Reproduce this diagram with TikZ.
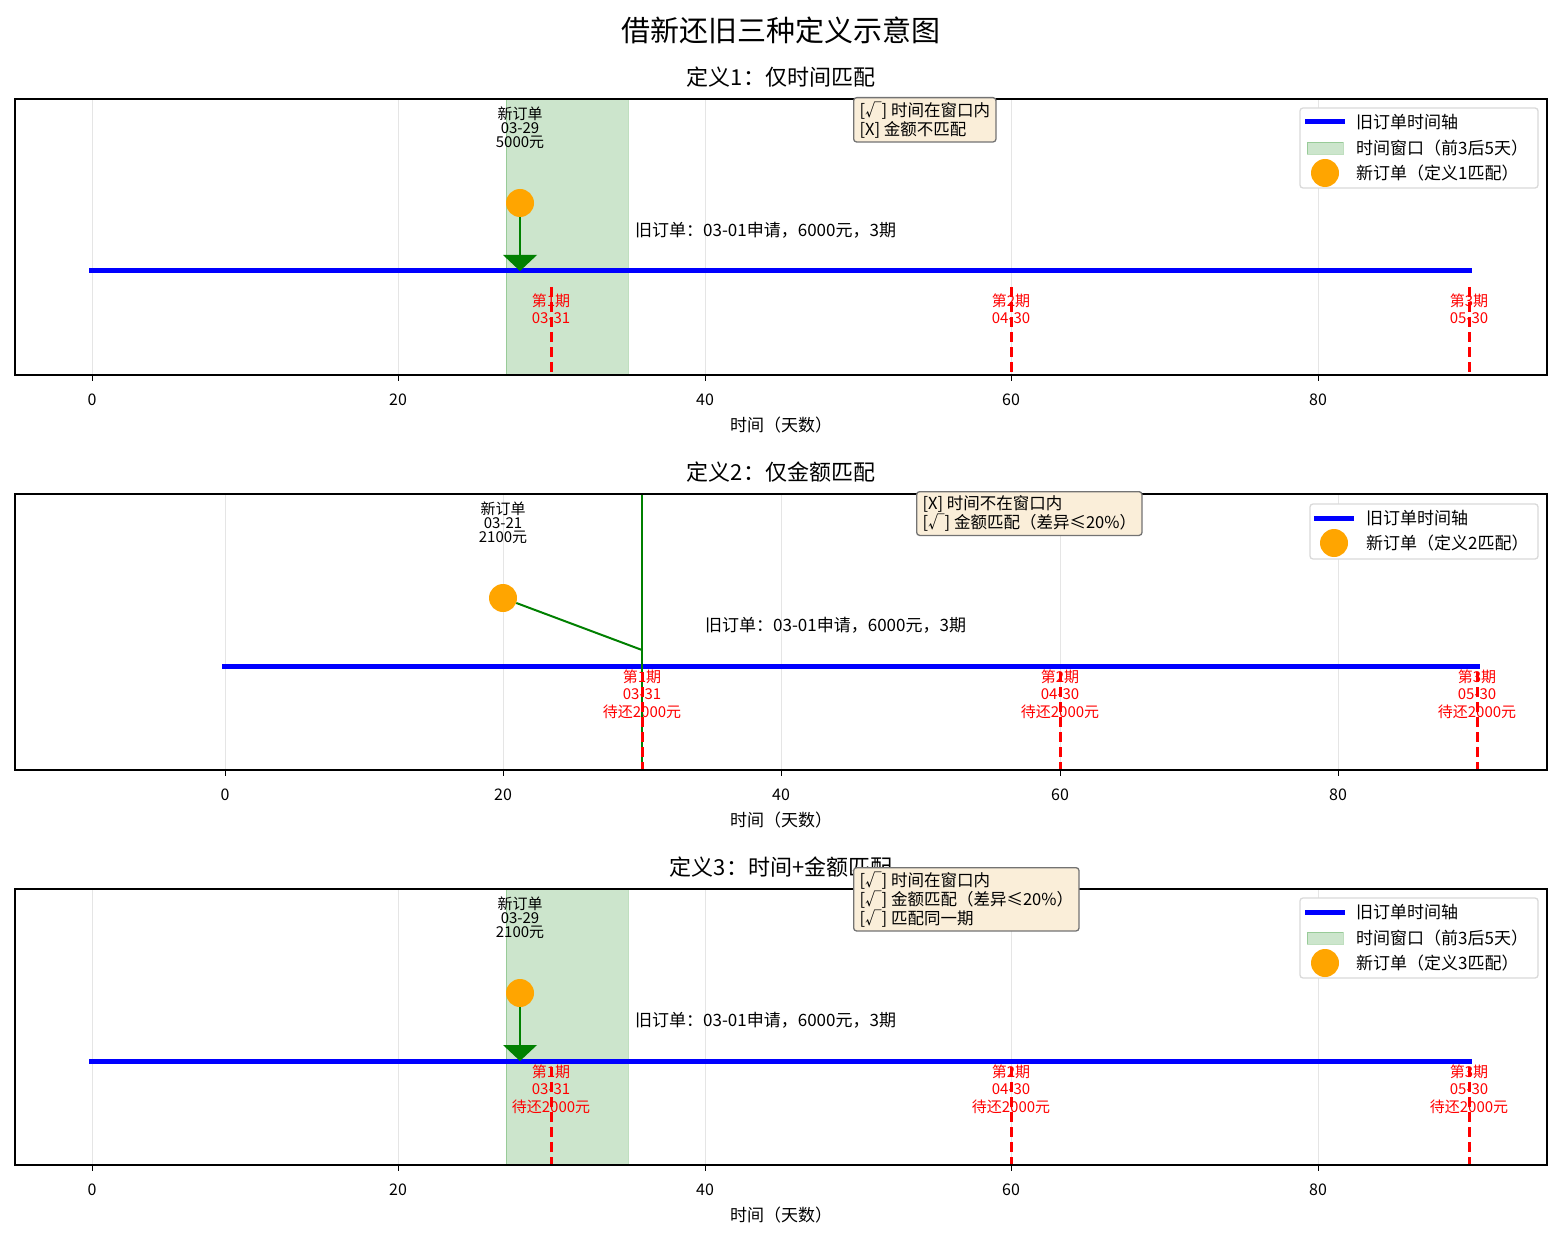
\documentclass[tikz,border=0pt]{standalone}
\usepackage{fontspec}
\setmainfont{Noto Sans CJK SC}
\definecolor{mplorange}{RGB}{255,165,0}
\definecolor{wheatb}{RGB}{250,238,217}
\definecolor{mplgreen}{RGB}{0,128,0}
\begin{document}
\begin{tikzpicture}[x=1pt,y=-1pt,
 t/.style={font=\fontsize{17}{19}\selectfont,inner sep=0pt},
 tk/.style={font=\fontsize{16}{18}\selectfont,inner sep=0pt},
 ts/.style={font=\fontsize{15}{17}\selectfont,inner sep=0pt,align=center},
 red/.style={font=\fontsize{15}{17.5}\selectfont,inner sep=0pt,align=center,text=red},
 ttl/.style={font=\fontsize{22}{24}\selectfont,inner sep=0pt},
 grid/.style={draw=black!10,line width=1},
 frame/.style={draw=black,line width=1.3},
 tl/.style={line width=5,draw=blue},
 pay/.style={draw=red,line width=3,dash pattern=on 10 off 5},
 win/.style={fill=mplgreen,fill opacity=0.2,draw=mplgreen,draw opacity=0.25},
 dot/.style={circle,fill=mplorange,minimum size=28,inner sep=0},
 box/.style={draw=black!55,fill=wheatb,rounded corners=3,line width=1.3,align=left,inner xsep=6pt,inner ysep=4pt,font=\fontsize{16.5}{19}\selectfont,anchor=north west},
 leg/.style={draw=black!15,fill=white,rounded corners=3,line width=1.3},
 gr/.style={draw=mplgreen,line width=2}]
\useasboundingbox (0,0) rectangle (1563,1241);
\fill[white] (0,0) rectangle (1563,1241);
\node[font=\fontsize{29}{31}\selectfont,inner sep=0] (title) at (781,30) {借新还旧三种定义示意图};
% ---------------- panels 1 and 3 ----------------
\foreach \o/\n/\ttt/\mon/\amt/\three/\lab in {0/1/{定义1：仅时间匹配}/5000元/{}/0/1,790/3/{定义3：时间+金额匹配}/2100元/{待还2000元}/1/3}{
 \begin{scope}[yshift=-\o]
 \foreach \v/\xx in {0/92,20/398,40/705,60/1011,80/1318}{
   \draw[grid] (\xx,99) -- (\xx,375);
   \draw[line width=1] (\xx,375) -- (\xx,381);
   \node[tk] at (\xx,400) {\v};}
 \fill[win] (506,99) rectangle (628,375);
 \draw[tl] (89,271) -- (1472,271);
 \foreach \xx/\a/\d in {551/1/03-31,1011/2/04-30,1469/3/05-30}{
   \ifnum\three=1
     \node[red] (p\a) at (\xx,1089-790) {第\a 期\\\d\\\amt};
     \draw[pay] (\xx,1067-790) -- (\xx,375);
   \else
     \node[red] (p\a) at (\xx,309) {第\a 期\\\d};
     \draw[pay] (\xx,287) -- (\xx,375);
   \fi}
 \node[dot] (n) at (520,203) {};
 \coordinate (tip) at (520,271);
 \draw[gr] (n) -- (520,256);
 \fill[mplgreen] (503,255) -- (537,255) -- (tip) -- cycle;
 \node[ts] (nl) at (520,128) {新订单\\[-3pt]03-29\\[-3pt]\mon};
 \node[t,anchor=west] (old) at (635,230) {旧订单：03-01申请，6000元，3期};
 \draw[frame] (15,99) rectangle (1547,375);
 \node[ttl] at (781,77) {\ttt};
 \node[t] at (781,425) {时间（天数）};
 \ifnum\three=1
   \node[box] (b) at (853,-790+867) {{[}√{]} 时间在窗口内\\{[}√{]} 金额匹配（差异≤20\%）\\{[}√{]} 匹配同一期};
 \else
   \node[box] (b) at (853,97) {{[}√{]} 时间在窗口内\\{[}X{]} 金额不匹配};
 \fi
 \draw[leg] (1300,108) rectangle (1538,188);
 \draw[tl] (1305,122) -- (1345,122);
 \fill[win] (1307,142) rectangle (1343,154);
 \node[dot,minimum size=28] at (1325,173) {};
 \node[t,anchor=west] at (1356,122) {旧订单时间轴};
 \node[t,anchor=west] at (1356,148) {时间窗口（前3后5天）};
 \node[t,anchor=west] at (1356,173) {新订单（定义\lab 匹配）};
 \end{scope}}
% ---------------- panel 2 ----------------
\foreach \v/\xx in {0/225,20/503,40/781,60/1060,80/1338}{
  \draw[grid] (\xx,494) -- (\xx,770);
  \draw[line width=1] (\xx,770) -- (\xx,776);
  \node[tk] at (\xx,795) {\v};}
\draw[tl] (222,666) -- (1480,666);
\foreach \xx/\a/\d in {642/1/03-31,1060/2/04-30,1477/3/05-30}{
  \node[red] (q\a) at (\xx,694) {第\a 期\\\d\\待还2000元};}
\draw[gr] (642,494) -- (642,770);
\foreach \xx in {642,1060,1477}{\draw[pay] (\xx,672) -- (\xx,770);}
\node[dot] (m) at (503,598) {};
\coordinate (mt) at (642,650);
\draw[gr] (m) -- (mt);
\node[ts] (ml) at (503,523) {新订单\\[-3pt]03-21\\[-3pt]2100元};
\node[t,anchor=west] (old2) at (705,625) {旧订单：03-01申请，6000元，3期};
\draw[frame] (15,494) rectangle (1547,770);
\node[ttl] at (781,472) {定义2：仅金额匹配};
\node[t] at (781,820) {时间（天数）};
\node[box] (b2) at (916,491) {{[}X{]} 时间不在窗口内\\{[}√{]} 金额匹配（差异≤20\%）};
\draw[leg] (1310,504) rectangle (1538,559);
\draw[tl] (1314,518) -- (1354,518);
\node[dot,minimum size=28] at (1334,543) {};
\node[t,anchor=west] at (1366,518) {旧订单时间轴};
\node[t,anchor=west] at (1366,543) {新订单（定义2匹配）};
\end{tikzpicture}
\end{document}
